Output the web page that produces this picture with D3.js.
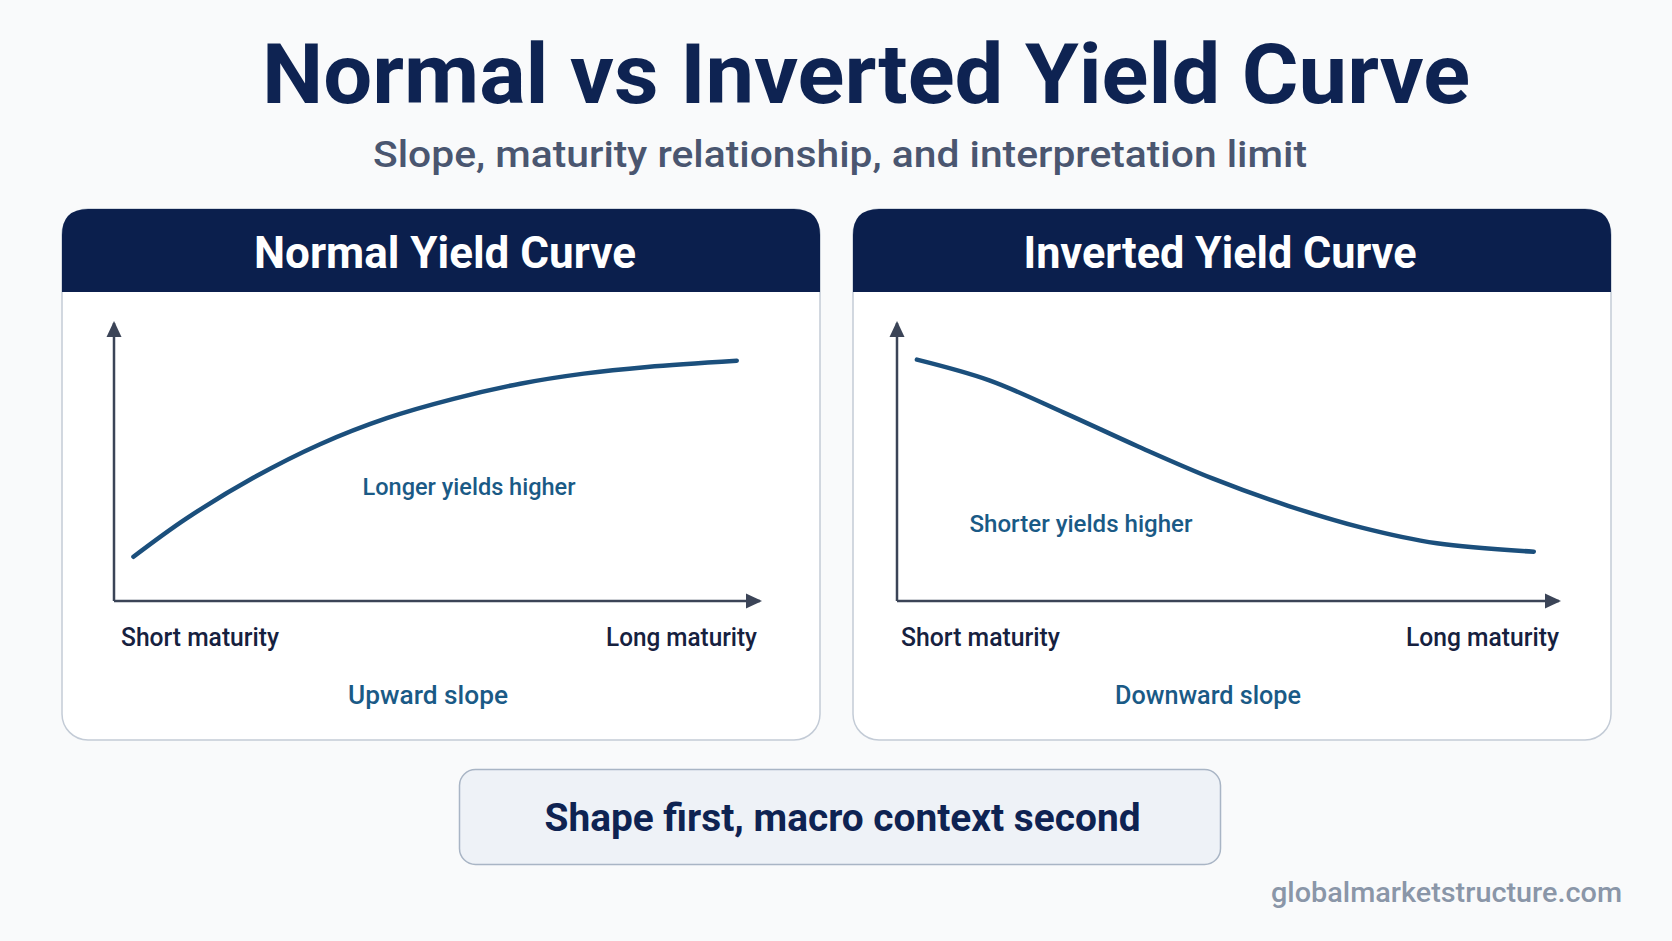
<!DOCTYPE html>
<html>
<head>
<meta charset="utf-8">
<script src="https://cdn.jsdelivr.net/npm/d3@7"></script>
<style>
  html, body { margin: 0; padding: 0; background: #f9fafb; }
  svg { display: block; }
  text { font-family: "Roboto", "Noto Sans", sans-serif; }
</style>
</head>
<body>
<svg id="chart" width="1672" height="941"></svg>
<script>
// ---- data ----
const chartTitle = "Normal vs Inverted Yield Curve";
const chartSubtitle = "Slope, maturity relationship, and interpretation limit";
const panelTitles = ["Normal Yield Curve", "Inverted Yield Curve"];
const curveLabels = ["Longer yields higher", "Shorter yields higher"];
const slopeLabels = ["Upward slope", "Downward slope"];
const axisLabels = ["Short maturity", "Long maturity"];
const takeaway = "Shape first, macro context second";
const sourceText = "globalmarketstructure.com";

// relative maturity (0 = shortest, 1 = longest) and relative yield (0..1)
const maturityNormal = [0.030, 0.112, 0.215, 0.318, 0.421, 0.524, 0.627, 0.725, 0.823, 0.961];
const yieldNormal    = [0.158, 0.295, 0.440, 0.560, 0.653, 0.722, 0.776, 0.812, 0.836, 0.858];
const maturityInverted = [0.030, 0.139, 0.252, 0.364, 0.476, 0.589, 0.700, 0.813, 0.959];
const yieldInverted    = [0.862, 0.788, 0.672, 0.551, 0.437, 0.340, 0.262, 0.206, 0.176];

const series = [
  maturityNormal.map((m, i) => ({ m, y: yieldNormal[i] })),
  maturityInverted.map((m, i) => ({ m, y: yieldInverted[i] }))
];

// ---- layout ----
const svg = d3.select("#chart");
const C = {
  navy: "#0b1f4d", title: "#0e2352", sub: "#4a5670", curve: "#1b4f7c",
  label: "#1a5a86", dark: "#16213f", axis: "#3b4457", border: "#c3cbd6",
  boxFill: "#eef2f7", boxStroke: "#a9b5c5", source: "#8a96a8"
};

function fitText(sel, width) {
  sel.attr("textLength", width).attr("lengthAdjust", "spacingAndGlyphs");
}

// title
svg.append("text").attr("x", 866).attr("y", 103).attr("text-anchor", "middle")
  .attr("font-size", 84).attr("font-weight", 700).attr("fill", C.title)
  .text(chartTitle).call(fitText, 1208);
svg.append("text").attr("x", 840).attr("y", 167).attr("text-anchor", "middle")
  .attr("font-size", 37).attr("font-weight", 500).attr("fill", C.sub)
  .text(chartSubtitle).call(fitText, 934);

const defs = svg.append("defs");
defs.append("marker").attr("id", "arrow").attr("viewBox", "0 0 16 16")
  .attr("refX", 14).attr("refY", 8).attr("markerWidth", 16).attr("markerHeight", 16)
  .attr("markerUnits", "userSpaceOnUse").attr("orient", "auto")
  .append("path").attr("d", "M0,0.5 L16,8 L0,15.5 Z").attr("fill", C.axis);

const panels = [
  { x0: 62, x1: 820, ax: 114, axEnd: 762, headX: 445, headW: 382,
    curveLblX: 469, curveLblY: 495, curveLblW: 213, slopeX: 428, slopeW: 160,
    shortX: 121, shortW: 158, longX: 757, longW: 151 },
  { x0: 853, x1: 1611, ax: 897, axEnd: 1561, headX: 1220, headW: 393,
    curveLblX: 1081, curveLblY: 532, curveLblW: 223, slopeX: 1208, slopeW: 186,
    shortX: 901, shortW: 159, longX: 1559, longW: 153 }
];
const cardTop = 209, cardBottom = 740, headH = 83, cardR = 26;
const axisY = 601, axisTop = 321;

panels.forEach((p, i) => {
  const g = svg.append("g");
  const w = p.x1 - p.x0, h = cardBottom - cardTop;
  // card
  g.append("rect").attr("x", p.x0).attr("y", cardTop).attr("width", w).attr("height", h)
    .attr("rx", cardR).attr("fill", "#ffffff").attr("stroke", C.border).attr("stroke-width", 1.5);
  // header band: rounded top, square bottom
  g.append("path")
    .attr("d", `M${p.x0},${cardTop + headH} L${p.x0},${cardTop + cardR} Q${p.x0},${cardTop} ${p.x0 + cardR},${cardTop}
                L${p.x1 - cardR},${cardTop} Q${p.x1},${cardTop} ${p.x1},${cardTop + cardR} L${p.x1},${cardTop + headH} Z`)
    .attr("fill", C.navy);
  g.append("text").attr("x", p.headX).attr("y", 268).attr("text-anchor", "middle")
    .attr("font-size", 44).attr("font-weight", 700).attr("fill", "#ffffff")
    .text(panelTitles[i]).call(fitText, p.headW);

  // scales
  const x = d3.scaleLinear().domain([0, 1]).range([p.ax, p.axEnd]);
  const y = d3.scaleLinear().domain([0, 1]).range([axisY, axisTop]);

  // axes
  const xAxis = g.append("g").attr("transform", `translate(0,${axisY})`)
    .call(d3.axisBottom(x).tickValues([]).tickSizeOuter(0));
  const yAxis = g.append("g").attr("transform", `translate(${p.ax},0)`)
    .call(d3.axisLeft(y).tickValues([]).tickSizeOuter(0));
  [xAxis, yAxis].forEach(a => a.select(".domain")
    .attr("stroke", C.axis).attr("stroke-width", 2.5).attr("fill", "none"));
  xAxis.select(".domain").attr("d", `M${x(0)},0H${x(1) - 2}`).attr("marker-end", "url(#arrow)");
  yAxis.select(".domain").attr("d", `M0,${y(0)}V${y(1) + 2}`).attr("marker-end", "url(#arrow)");

  // curve
  const line = d3.line().x(d => x(d.m)).y(d => y(d.y)).curve(d3.curveCatmullRom.alpha(0.5));
  g.append("path").datum(series[i]).attr("d", line)
    .attr("fill", "none").attr("stroke", C.curve).attr("stroke-width", 4.5)
    .attr("stroke-linecap", "round");

  // labels
  g.append("text").attr("x", p.curveLblX).attr("y", p.curveLblY).attr("text-anchor", "middle")
    .attr("font-size", 23).attr("font-weight", 500).attr("fill", C.label)
    .text(curveLabels[i]).call(fitText, p.curveLblW);
  g.append("text").attr("x", p.shortX).attr("y", 646)
    .attr("font-size", 25).attr("font-weight", 500).attr("fill", C.dark)
    .text(axisLabels[0]).call(fitText, p.shortW);
  g.append("text").attr("x", p.longX - p.longW).attr("y", 646)
    .attr("font-size", 25).attr("font-weight", 500).attr("fill", C.dark)
    .text(axisLabels[1]).call(fitText, p.longW);
  g.append("text").attr("x", p.slopeX).attr("y", 704).attr("text-anchor", "middle")
    .attr("font-size", 25).attr("font-weight", 500).attr("fill", C.label)
    .text(slopeLabels[i]).call(fitText, p.slopeW);
});

// takeaway box
svg.append("rect").attr("x", 459.5).attr("y", 769.5).attr("width", 761).attr("height", 95)
  .attr("rx", 16).attr("fill", C.boxFill).attr("stroke", C.boxStroke).attr("stroke-width", 1.5);
svg.append("text").attr("x", 842.5).attr("y", 831).attr("text-anchor", "middle")
  .attr("font-size", 39).attr("font-weight", 700).attr("fill", C.title)
  .text(takeaway).call(fitText, 596);

// source
svg.append("text").attr("x", 1622).attr("y", 902).attr("text-anchor", "end")
  .attr("font-size", 27).attr("font-weight", 500).attr("fill", C.source)
  .text(sourceText).call(fitText, 351);
</script>
</body>
</html>
